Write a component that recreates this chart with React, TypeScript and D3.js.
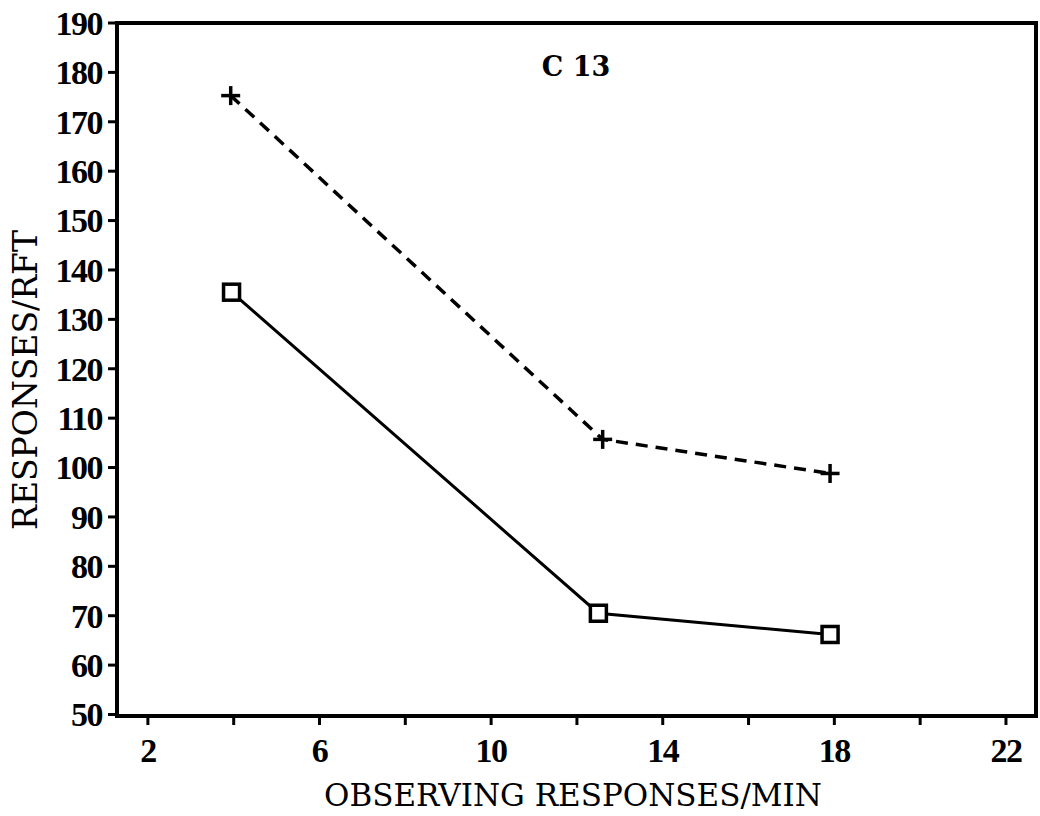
import React from "react";
import * as d3 from "d3";

const xTickValues = [2, 4, 6, 8, 10, 12, 14, 16, 18, 20, 22];
const xTickLabels = ["2", "", "6", "", "10", "", "14", "", "18", "", "22"];
const yTickValues = [50, 60, 70, 80, 90, 100, 110, 120, 130, 140, 150, 160, 170, 180, 190];

const plusX = [3.93, 12.6, 17.9];
const plusY = [175.3, 105.7, 98.8];
const squareX = [3.95, 12.5, 17.9];
const squareY = [135.5, 70.5, 66.2];

const titleText = "C 13";
const xLabel = "OBSERVING RESPONSES/MIN";
const yLabel = "RESPONSES/RFT";

const W = 1040;
const H = 816;
const left = 117;
const right = 1036;
const top = 23;
const bottom = 716;

export default function App() {
  const x = d3.scaleLinear().domain([1.28, 22.7]).range([left, right]);
  const y = d3.scaleLinear().domain([50, 190]).range([bottom - 1.5, top]);
  const line = d3
    .line<[number, number]>()
    .x((d) => x(d[0]))
    .y((d) => y(d[1]));
  const plusData: [number, number][] = plusX.map((v, i) => [v, plusY[i]]);
  const sqData: [number, number][] = squareX.map((v, i) => [v, squareY[i]]);
  const tickFont = "'Liberation Serif', 'DejaVu Serif', serif";
  const labelFont = "'DejaVu Serif', 'Liberation Serif', serif";
  return (
    <svg
      width={W}
      height={H}
      style={{ position: "absolute", left: 0, top: 0, background: "#fff" }}
    >
      <rect x={0} y={0} width={W} height={H} fill="#fff" />
      <rect
        x={left}
        y={top}
        width={right - left}
        height={bottom - top}
        fill="none"
        stroke="#000"
        strokeWidth={4}
      />
      {yTickValues.map((v) => (
        <g key={"y" + v}>
          <line x1={left - 9} x2={left} y1={y(v)} y2={y(v)} stroke="#000" strokeWidth={3} />
          <text
            x={left - 15}
            y={y(v)}
            dy="0.35em"
            textAnchor="end"
            fontFamily={tickFont}
            fontWeight="bold"
            fontSize={34}
            letterSpacing={-1.5}
          >
            {v}
          </text>
        </g>
      ))}
      {xTickValues.map((v, i) => (
        <g key={"x" + v}>
          <line x1={x(v)} x2={x(v)} y1={bottom} y2={bottom + 9} stroke="#000" strokeWidth={3} />
          <text
            x={x(v)}
            y={762}
            textAnchor="middle"
            fontFamily={tickFont}
            fontWeight="bold"
            fontSize={34}
            letterSpacing={-1.5}
          >
            {xTickLabels[i]}
          </text>
        </g>
      ))}
      <path
        d={line(plusData) || ""}
        fill="none"
        stroke="#000"
        strokeWidth={3.5}
        strokeDasharray="12 8"
      />
      <path d={line(sqData) || ""} fill="none" stroke="#000" strokeWidth={3} />
      {plusData.map((d, i) => (
        <g key={"p" + i} transform={`translate(${x(d[0])},${y(d[1])})`}>
          <line x1={-9.5} x2={9.5} y1={0} y2={0} stroke="#000" strokeWidth={3.5} />
          <line x1={0} x2={0} y1={-9.5} y2={9.5} stroke="#000" strokeWidth={3.5} />
        </g>
      ))}
      {sqData.map((d, i) => (
        <rect
          key={"s" + i}
          x={x(d[0]) - 8}
          y={y(d[1]) - 8}
          width={16}
          height={16}
          fill="#fff"
          stroke="#000"
          strokeWidth={3.5}
        />
      ))}
      <text
        x={576}
        y={76}
        textAnchor="middle"
        fontFamily={labelFont}
        fontWeight="bold"
        fontSize={27}
      >
        {titleText}
      </text>
      <text
        x={573}
        y={806}
        textAnchor="middle"
        fontFamily={labelFont}
        fontSize={31}
      >
        {xLabel}
      </text>
      <text
        transform={`translate(37,380) rotate(-90)`}
        textAnchor="middle"
        fontFamily={labelFont}
        fontSize={33}
      >
        {yLabel}
      </text>
    </svg>
  );
}
